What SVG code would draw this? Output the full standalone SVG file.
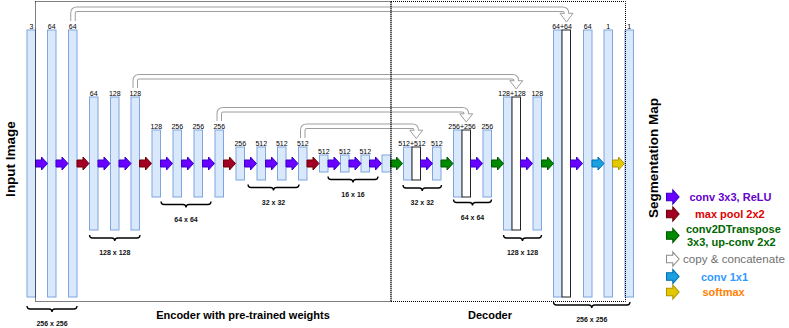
<svg xmlns="http://www.w3.org/2000/svg" xmlns:xlink="http://www.w3.org/1999/xlink" width="789" height="328" viewBox="0 0 789 328">
<defs>
<style>
.blk{fill:#dae8fc;stroke:#7ea6e0;stroke-width:1}
.cat{fill:#fff;stroke:#222;stroke-width:1}
.ch{font-family:"Liberation Sans",Arial,sans-serif;font-size:7px;text-anchor:middle;fill:#000}
.dim{font-family:"Liberation Sans",Arial,sans-serif;font-size:7px;font-weight:bold;text-anchor:middle;fill:#111}
.brace{fill:none;stroke:#000;stroke-width:1.3}
.box{fill:none;stroke:#000;stroke-width:1;stroke-dasharray:1 1}
.title{font-family:"Liberation Sans",Arial,sans-serif;font-size:13.5px;font-weight:bold;text-anchor:middle;fill:#000}
.sub{font-family:"Liberation Sans",Arial,sans-serif;font-size:11px;font-weight:bold;text-anchor:middle;fill:#000}
.leg{font-family:"Liberation Sans",Arial,sans-serif;font-size:11px;font-weight:bold}
.a-conv{fill:#6a00ff;stroke:#3700cc;stroke-width:1}
.a-pool{fill:#a20025;stroke:#6f0000;stroke-width:1}
.a-up{fill:#008a00;stroke:#005700;stroke-width:1}
.a-1x1{fill:#1ba1e2;stroke:#006eaf;stroke-width:1}
.a-sm{fill:#e3c800;stroke:#b09500;stroke-width:1}
.a-copy{fill:#fff;stroke:#8c8c8c;stroke-width:1}
.sk-o{fill:none;stroke:#9e9e9e;stroke-width:5.5}
.sk-i{fill:none;stroke:#fff;stroke-width:3.5}
.sk-h{fill:#fff;stroke:#9e9e9e;stroke-width:1}
</style>
<path id="arr" d="M0,-3.5 H6 V-6.5 L12,0 L6,6.5 V3.5 H0 Z"/>
</defs>
<rect width="789" height="328" fill="#fff"/>

<!-- encoder blocks -->
<g id="b1"><rect class="blk" x="27" y="30" width="8.5" height="267"/><text class="ch" x="31.5" y="28.5">3</text></g>
<g id="b2"><rect class="blk" x="47.5" y="30" width="8.5" height="267"/><text class="ch" x="51.75" y="28.5">64</text></g>
<g id="b3"><rect class="blk" x="68.5" y="30" width="8.5" height="267"/><text class="ch" x="72.75" y="28.5">64</text></g>
<g id="b4"><rect class="blk" x="89.5" y="97" width="8.5" height="133"/><text class="ch" x="93.75" y="95.5">64</text></g>
<g id="b5"><rect class="blk" x="110.5" y="97" width="8.5" height="133"/><text class="ch" x="114.75" y="95.5">128</text></g>
<g id="b6"><rect class="blk" x="131" y="97" width="8.5" height="133"/><text class="ch" x="135.25" y="95.5">128</text></g>
<g id="b7"><rect class="blk" x="152" y="130" width="8.5" height="67"/><text class="ch" x="156.25" y="128.5">128</text></g>
<g id="b8"><rect class="blk" x="173" y="130" width="8.5" height="67"/><text class="ch" x="177.25" y="128.5">256</text></g>
<g id="b9"><rect class="blk" x="194" y="130" width="8.5" height="67"/><text class="ch" x="198.25" y="128.5">256</text></g>
<g id="b10"><rect class="blk" x="215" y="130" width="8.5" height="67"/><text class="ch" x="219.25" y="128.5">256</text></g>
<g id="b11"><rect class="blk" x="236" y="147" width="8.5" height="33"/><text class="ch" x="240.25" y="145.5">256</text></g>
<g id="b12"><rect class="blk" x="257" y="147" width="8.5" height="33"/><text class="ch" x="261.25" y="145.5">512</text></g>
<g id="b13"><rect class="blk" x="277.5" y="147" width="8.5" height="33"/><text class="ch" x="281.75" y="145.5">512</text></g>
<g id="b14"><rect class="blk" x="298.5" y="147" width="8.5" height="33"/><text class="ch" x="302.75" y="145.5">512</text></g>
<g id="b15"><rect class="blk" x="319.5" y="155" width="8.5" height="17"/><text class="ch" x="323.75" y="153.5">512</text></g>
<g id="b16"><rect class="blk" x="340.5" y="155" width="8.5" height="17"/><text class="ch" x="344.75" y="153.5">512</text></g>
<g id="b17"><rect class="blk" x="361" y="155" width="8.5" height="17"/><text class="ch" x="365.25" y="153.5">512</text></g>
<g id="b18"><rect class="blk" x="382" y="155" width="8.5" height="17"/></g>

<!-- decoder blocks -->
<g id="b19"><rect class="blk" x="403.5" y="147" width="8.5" height="33"/><rect class="cat" x="412" y="147" width="8.5" height="33"/><text class="ch" x="412" y="145.5">512+512</text></g>
<g id="b20"><rect class="blk" x="432.5" y="147" width="8.5" height="33"/><text class="ch" x="436.75" y="145.5">512</text></g>
<g id="b21"><rect class="blk" x="453.5" y="130" width="8.5" height="67"/><rect class="cat" x="462" y="130" width="8.5" height="67"/><text class="ch" x="462" y="128.5">256+256</text></g>
<g id="b22"><rect class="blk" x="483" y="130" width="8.5" height="67"/><text class="ch" x="487.25" y="128.5">256</text></g>
<g id="b23"><rect class="blk" x="503.5" y="97" width="8.5" height="133"/><rect class="cat" x="512" y="97" width="8.5" height="133"/><text class="ch" x="512" y="95.5">128+128</text></g>
<g id="b24"><rect class="blk" x="533" y="97" width="8.5" height="133"/><text class="ch" x="537.25" y="95.5">128</text></g>
<g id="b25"><rect class="blk" x="553.5" y="30" width="8.5" height="267"/><rect class="cat" x="562" y="30" width="8.5" height="267"/><text class="ch" x="562" y="28.5">64+64</text></g>
<g id="b26"><rect class="blk" x="583.5" y="30" width="8.5" height="267"/><text class="ch" x="587.75" y="28.5">64</text></g>
<g id="b27"><rect class="blk" x="604" y="30" width="8.5" height="267"/><text class="ch" x="608.25" y="28.5">1</text></g>
<g id="b28"><rect class="blk" x="625" y="30" width="8.5" height="267"/><text class="ch" x="629.25" y="28.5">1</text></g>

<!-- connectors -->
<g id="connectors">
<use href="#arr" class="a-conv" transform="translate(35.5,163.5)"/>
<use href="#arr" class="a-conv" transform="translate(56,163.5)"/>
<use href="#arr" class="a-pool" transform="translate(77,163.5)"/>
<use href="#arr" class="a-conv" transform="translate(98,163.5)"/>
<use href="#arr" class="a-conv" transform="translate(119,163.5)"/>
<use href="#arr" class="a-pool" transform="translate(139.5,163.5)"/>
<use href="#arr" class="a-conv" transform="translate(160.5,163.5)"/>
<use href="#arr" class="a-conv" transform="translate(181.5,163.5)"/>
<use href="#arr" class="a-conv" transform="translate(202.5,163.5)"/>
<use href="#arr" class="a-pool" transform="translate(223.5,163.5)"/>
<use href="#arr" class="a-conv" transform="translate(244.5,163.5)"/>
<use href="#arr" class="a-conv" transform="translate(265.5,163.5)"/>
<use href="#arr" class="a-conv" transform="translate(286,163.5)"/>
<use href="#arr" class="a-pool" transform="translate(307,163.5)"/>
<use href="#arr" class="a-conv" transform="translate(328,163.5)"/>
<use href="#arr" class="a-conv" transform="translate(349,163.5)"/>
<use href="#arr" class="a-conv" transform="translate(369.5,163.5)"/>
<use href="#arr" class="a-up" transform="translate(390.5,163.5)"/>
<use href="#arr" class="a-conv" transform="translate(420.5,163.5)"/>
<use href="#arr" class="a-up" transform="translate(441,163.5)"/>
<use href="#arr" class="a-conv" transform="translate(470.5,163.5)"/>
<use href="#arr" class="a-up" transform="translate(491.5,163.5)"/>
<use href="#arr" class="a-conv" transform="translate(520.5,163.5)"/>
<use href="#arr" class="a-up" transform="translate(541.5,163.5)"/>
<use href="#arr" class="a-conv" transform="translate(570.5,163.5)"/>
<use href="#arr" class="a-1x1" transform="translate(592,163.5)"/>
<use href="#arr" class="a-sm" transform="translate(612.5,163.5)"/>

<g id="skip1">
<polygon class="sk-h" points="560,13.3 573,13.3 566.5,22"/>
<path class="sk-o" d="M73,21 V13.3 Q73,9.3 77,9.3 H562.5 Q566.5,9.3 566.5,13.3"/>
<path class="sk-i" d="M73,21 V13.3 Q73,9.3 77,9.3 H562.5 Q566.5,9.3 566.5,13.3 V15"/>
</g>
<g id="skip2">
<polygon class="sk-h" points="509.75,80.7 522.75,80.7 516.25,89"/>
<path class="sk-o" d="M135.25,88 V80.7 Q135.25,76.7 139.25,76.7 H512.25 Q516.25,76.7 516.25,80.7"/>
<path class="sk-i" d="M135.25,88 V80.7 Q135.25,76.7 139.25,76.7 H512.25 Q516.25,76.7 516.25,80.7 V82.4"/>
</g>
<g id="skip3">
<polygon class="sk-h" points="459.75,113.8 472.75,113.8 466.25,122"/>
<path class="sk-o" d="M219.25,121 V113.8 Q219.25,109.8 223.25,109.8 H462.25 Q466.25,109.8 466.25,113.8"/>
<path class="sk-i" d="M219.25,121 V113.8 Q219.25,109.8 223.25,109.8 H462.25 Q466.25,109.8 466.25,113.8 V115.5"/>
</g>
<g id="skip4">
<polygon class="sk-h" points="409.75,130.2 422.75,130.2 416.25,138.5"/>
<path class="sk-o" d="M302.75,138 V130.2 Q302.75,126.2 306.75,126.2 H412.25 Q416.25,126.2 416.25,130.2"/>
<path class="sk-i" d="M302.75,138 V130.2 Q302.75,126.2 306.75,126.2 H412.25 Q416.25,126.2 416.25,130.2 V131.9"/>
</g>
</g>

<!-- dotted region boxes -->
<g id="encoder-box"><rect class="box" x="35.5" y="1.5" width="355.5" height="300"/></g>
<g id="decoder-box"><rect class="box" x="391" y="1.5" width="234.5" height="300"/></g>

<!-- braces and sizes -->
<g id="dim1"><path class="brace" d="M27,306 Q27,309 30,309 H49 Q52,309 52,312 Q52,309 55,309 H74 Q77,309 77,306"/><text class="dim" x="52" y="325.5">256 x 256</text></g>
<g id="dim2"><path class="brace" d="M89.5,235 Q89.5,238 92.5,238 H111.75 Q114.75,238 114.75,241 Q114.75,238 117.75,238 H137 Q140,238 140,235"/><text class="dim" x="114.75" y="255">128 x 128</text></g>
<g id="dim3"><path class="brace" d="M161,201.5 Q161,204.5 164,204.5 H183 Q186,204.5 186,207.5 Q186,204.5 189,204.5 H208 Q211,204.5 211,201.5"/><text class="dim" x="186" y="221.5">64 x 64</text></g>
<g id="dim4"><path class="brace" d="M248,184.5 Q248,187.5 251,187.5 H270.5 Q273.5,187.5 273.5,190.5 Q273.5,187.5 276.5,187.5 H296 Q299,187.5 299,184.5"/><text class="dim" x="273.5" y="205">32 x 32</text></g>
<g id="dim5"><path class="brace" d="M328,176.5 Q328,179.5 331,179.5 H350 Q353,179.5 353,182.5 Q353,179.5 356,179.5 H375 Q378,179.5 378,176.5"/><text class="dim" x="353" y="196.5">16 x 16</text></g>
<g id="dim6"><path class="brace" d="M403,185 Q403,188 406,188 H419.25 Q422.25,188 422.25,191 Q422.25,188 425.25,188 H438.5 Q441.5,188 441.5,185"/><text class="dim" x="422.25" y="205">32 x 32</text></g>
<g id="dim7"><path class="brace" d="M453.5,199.5 Q453.5,202.5 456.5,202.5 H469.5 Q472.5,202.5 472.5,205.5 Q472.5,202.5 475.5,202.5 H488.5 Q491.5,202.5 491.5,199.5"/><text class="dim" x="472.5" y="220">64 x 64</text></g>
<g id="dim8"><path class="brace" d="M503.5,235 Q503.5,238 506.5,238 H519.5 Q522.5,238 522.5,241 Q522.5,238 525.5,238 H538.5 Q541.5,238 541.5,235"/><text class="dim" x="522.5" y="255">128 x 128</text></g>
<g id="dim9"><path class="brace" d="M553.5,302 Q553.5,305 556.5,305 H588.75 Q591.75,305 591.75,308 Q591.75,305 594.75,305 H627 Q630,305 630,302"/><text class="dim" x="591.75" y="322">256 x 256</text></g>

<!-- titles -->
<g id="input-label"><text class="title" transform="translate(14.5,159) rotate(-90)">Input Image</text></g>
<g id="output-label"><text class="title" transform="translate(657.5,158) rotate(-90)">Segmentation Map</text></g>
<g id="encoder-label"><text class="sub" x="243" y="319">Encoder with pre-trained weights</text></g>
<g id="decoder-label"><text class="sub" x="490" y="318.5">Decoder</text></g>

<!-- legend -->
<g id="legend-conv"><use href="#arr" class="a-conv" transform="translate(666.5,197) scale(1.05,1.08)"/><text class="leg" x="689.5" y="201" fill="#6600cc">conv 3x3, ReLU</text></g>
<g id="legend-pool"><use href="#arr" class="a-pool" transform="translate(666.5,214) scale(1.05,1.08)"/><text class="leg" x="695" y="218" fill="#e00000">max pool 2x2</text></g>
<g id="legend-up"><use href="#arr" class="a-up" transform="translate(666.5,235.5) scale(1.05,1.08)"/><text class="leg" x="686" y="233" fill="#006600">conv2DTranspose</text><text class="leg" x="687" y="245.5" fill="#006600">3x3, up-conv 2x2</text></g>
<g id="legend-copy"><use href="#arr" class="a-copy" transform="translate(666.5,259) scale(1.05,1.08)"/><text class="leg" x="683" y="262.5" fill="#707070" style="font-weight:normal;font-size:11.6px">copy &amp; concatenate</text></g>
<g id="legend-1x1"><use href="#arr" class="a-1x1" transform="translate(666.5,276.5) scale(1.05,1.08)"/><text class="leg" x="701" y="280.5" fill="#3399ff">conv 1x1</text></g>
<g id="legend-softmax"><use href="#arr" class="a-sm" transform="translate(666.5,292) scale(1.05,1.08)"/><text class="leg" x="702.5" y="296" fill="#ff8000">softmax</text></g>
</svg>
